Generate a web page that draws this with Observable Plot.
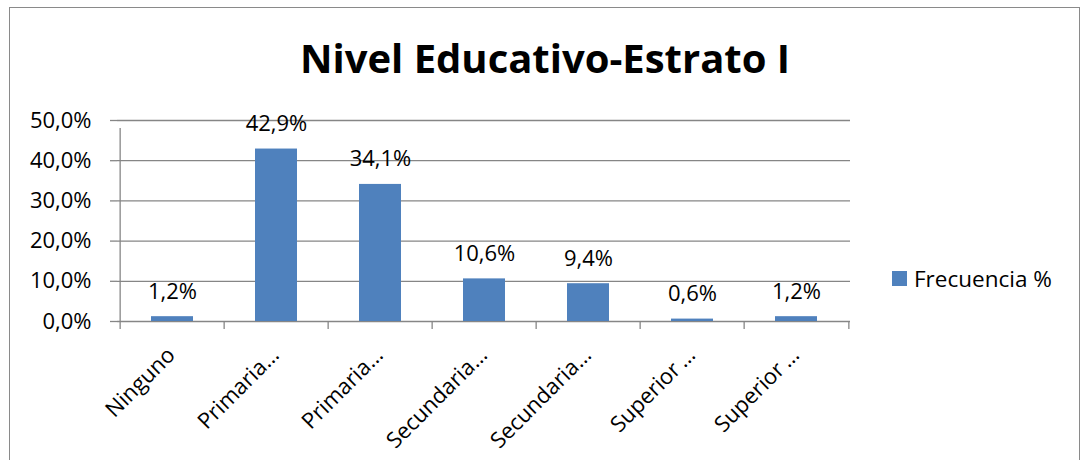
<!DOCTYPE html>
<html>
<head>
<meta charset="utf-8">
<script src="https://cdn.jsdelivr.net/npm/d3@7"></script>
<script src="https://cdn.jsdelivr.net/npm/@observablehq/plot@0.6"></script>
<style>
  html, body { margin: 0; padding: 0; background: #fff; }
  #wrap { position: relative; width: 1083px; height: 460px; overflow: hidden; font-family: "Open Sans", sans-serif; }
  #frame { position: absolute; left: 9px; top: 7px; width: 1071px; height: 470px; border: 1.5px solid #8a8a8a; box-sizing: border-box; }
  #title { position: absolute; left: 0; width: 1090px; top: 31px; text-align: center; font-weight: 700; font-size: 40px; line-height: 54px; color: #000; }
  #chart { position: absolute; left: 0; top: 0; }
  #legend { position: absolute; left: 892px; top: 263px; display: flex; align-items: center; font-size: 22.5px; color: #000; }
  #legend .sw { width: 15px; height: 15px; background: #4F81BD; margin-right: 7px; }
</style>
</head>
<body>
<div id="wrap">
  <div id="frame"></div>
  <div id="chart"></div>
  <div id="title">Nivel Educativo-Estrato I</div>
  <div id="legend"><div class="sw"></div><span>Frecuencia %</span></div>
</div>
<script>
const categories = ["Ninguno", "Primaria…", "Primaria… ", "Secundaria…", "Secundaria… ", "Superior\u2009…", "Superior\u2009… "];
const values = [0.012, 0.429, 0.341, 0.106, 0.094, 0.006, 0.012];
const labels = ["1,2%", "42,9%", "34,1%", "10,6%", "9,4%", "0,6%", "1,2%"];
const yTicks = [0, 0.1, 0.2, 0.3, 0.4, 0.5];
const seriesName = "Frecuencia %";

const data = categories.map((c, i) => ({cat: c, value: values[i], label: labels[i]}));

const W = 1083, H = 460, mL = 117, mR = 233, mT = 120, mB = 139;
const step = (W - mL - mR) / categories.length;
const fmt = d => (d * 100).toFixed(1).replace(".", ",") + "%";
const grey = "#868686";

const chart = Plot.plot({
  width: W, height: H,
  marginLeft: mL, marginRight: mR, marginTop: mT, marginBottom: mB,
  style: {fontFamily: "Open Sans, sans-serif", fontSize: "22px", color: "#000", background: "transparent"},
  x: {domain: categories, paddingInner: 0.6, paddingOuter: 0.3, label: null},
  y: {domain: [0, 0.5], label: null},
  marks: [
    Plot.gridY(yTicks, {stroke: grey, strokeOpacity: 1, strokeWidth: 1.3}),
    Plot.axisY(yTicks, {tickSize: 7, tickPadding: 19, tickFormat: fmt, stroke: grey, strokeWidth: 1.3, strokeOpacity: 1, fill: "#000", label: null}),
    Plot.ruleX([categories[0]], {dx: -step / 2, y1: 0, y2: 0.5, stroke: grey, strokeWidth: 1.3, insetBottom: -8}),
    Plot.axisX({tickSize: 8, text: null, dx: -step / 2, stroke: grey, strokeWidth: 1.3, strokeOpacity: 1, label: null}),
    Plot.axisX([categories[categories.length - 1]], {tickSize: 8, text: null, dx: step / 2, stroke: grey, strokeWidth: 1.3, strokeOpacity: 1, label: null}),
    Plot.axisX({tickSize: 0, tickPadding: 30, tickRotate: -45, fill: "#000", label: null, tickFormat: d => d.trim(), dx: -1}),
    Plot.barY(data, {x: "cat", y: "value", fill: "#4F81BD"}),
    Plot.text(data, {x: "cat", y: "value", text: "label", lineAnchor: "bottom", dy: -18, fill: "#000"})
  ]
});
document.getElementById("chart").appendChild(chart);
</script>
</body>
</html>
